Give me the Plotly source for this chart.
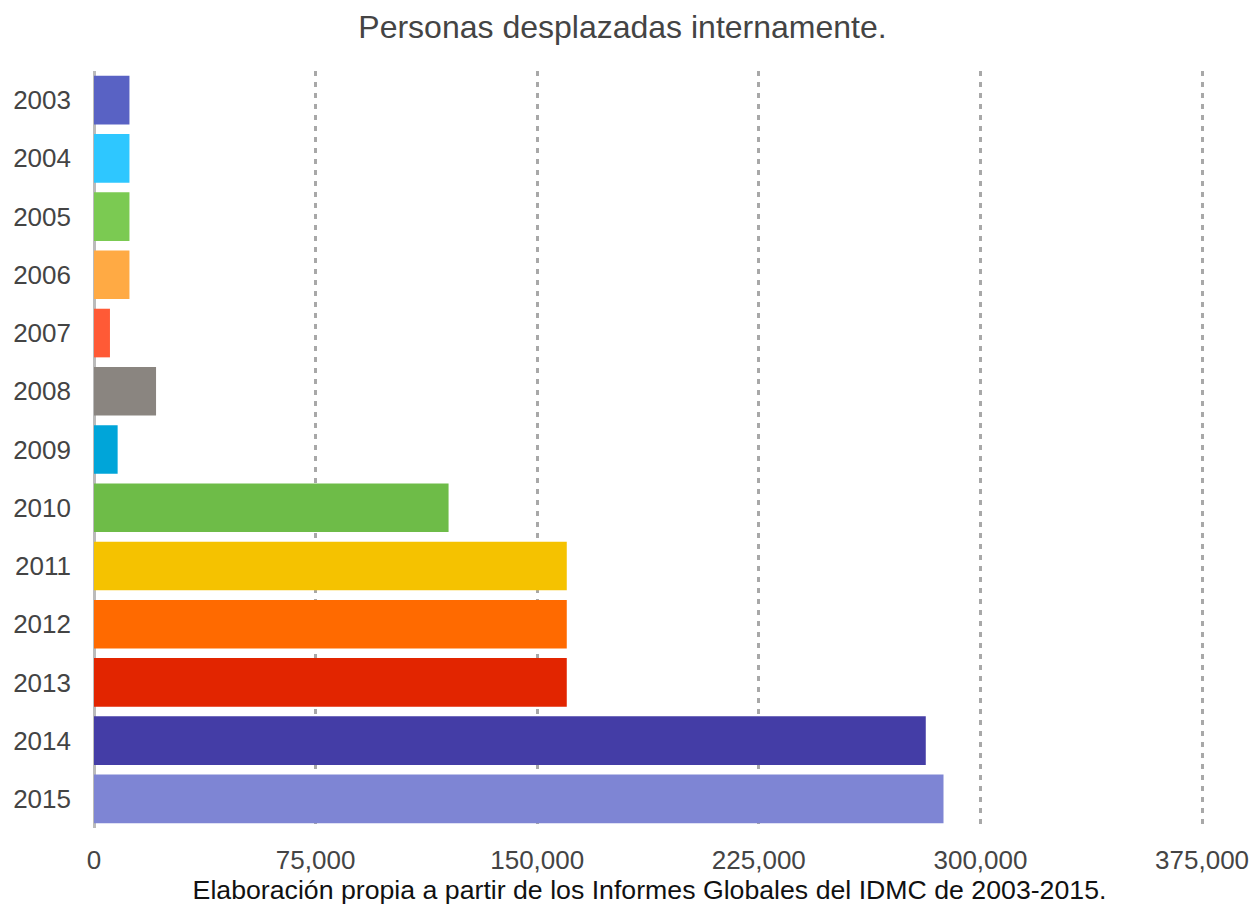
import plotly.graph_objects as go

years = ["2003", "2004", "2005", "2006", "2007", "2008", "2009",
         "2010", "2011", "2012", "2013", "2014", "2015"]
displaced = [12000, 12000, 12000, 12000, 5400, 21000, 8000,
             120000, 160000, 160000, 160000, 281500, 287500]
colors = ["#5962C4", "#2EC7FF", "#7BCA52", "#FFAA44", "#FF5A36", "#8A8580", "#00A5D9",
          "#6EBC48", "#F5C200", "#FF6A00", "#E22500", "#443DA6", "#7E85D4"]
x_ticks = [0, 75000, 150000, 225000, 300000, 375000]

fig = go.Figure(go.Bar(
    x=displaced, y=years, orientation="h",
    marker=dict(color=colors, line=dict(width=0)),
    hovertemplate="%{y}: %{x:,}<extra></extra>",
))

fig.update_layout(
    width=1255, height=909,
    margin=dict(l=94, r=50, t=71, b=81),
    paper_bgcolor="white", plot_bgcolor="white",
    font=dict(family="Liberation Sans, Arial, sans-serif", color="#444444"),
    title=dict(text="Personas desplazadas internamente.", x=0.496, xref="container",
               y=0.97, yref="container", yanchor="middle",
               font=dict(size=32, color="#444444")),
    bargap=0.165,
    showlegend=False,
)

fig.update_xaxes(
    range=[0, 376000], tickvals=x_ticks, ticktext=[f"{v:,}" for v in x_ticks],
    showgrid=True, gridcolor="#a8a8a8", gridwidth=2.5, griddash="5px,6px",
    zeroline=True, zerolinecolor="#bbbbbb", zerolinewidth=3,
    showline=False, ticks="", ticklabelstandoff=14, automargin=False,
    tickfont=dict(size=26, color="#444444"),
    title=dict(text="Elaboración propia a partir de los Informes Globales del IDMC de 2003-2015.",
               font=dict(size=26.7, color="#111111"), standoff=6),
)

fig.update_yaxes(
    autorange="reversed", showgrid=False, showline=False, ticks="",
    ticklabelstandoff=22, automargin=False, tickfont=dict(size=26, color="#444444"),
)

fig.write_html("out.html")
